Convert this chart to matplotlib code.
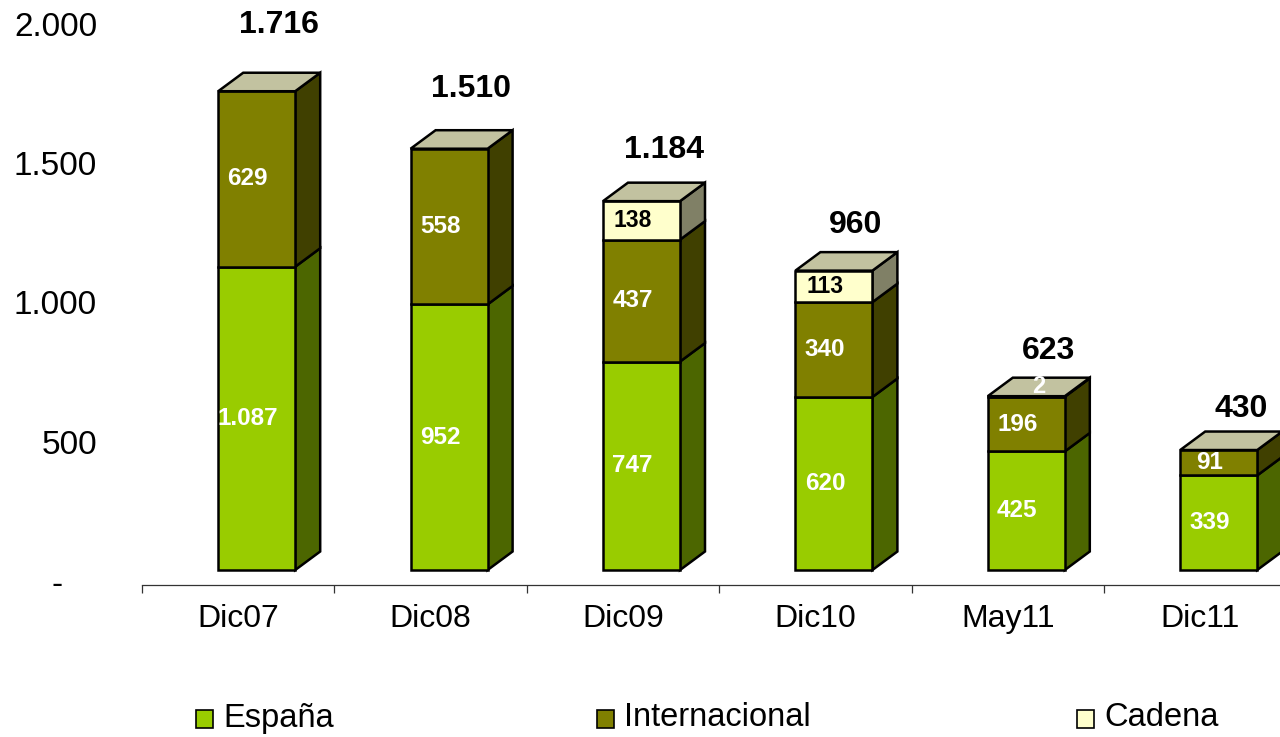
import matplotlib
matplotlib.use("Agg")
import matplotlib.pyplot as plt
from matplotlib.patches import Polygon, Rectangle
import numpy as np

# ---------------- data ----------------
categories = ["Dic07", "Dic08", "Dic09", "Dic10", "May11", "Dic11"]
espana = [1087, 952, 747, 620, 425, 339]
internacional = [629, 558, 437, 340, 196, 91]
cadena = [0, 0, 138, 113, 0, 0]
otros = [0, 0, 0, 0, 2, 0]
total_labels = ["1.716", "1.510", "1.184", "960", "623", "430"]
y_ticks = [0, 500, 1000, 1500, 2000]
y_tick_labels = ["-", "500", "1.000", "1.500", "2.000"]
legend_labels = ["España", "Internacional", "Cadena"]

# ---------------- style ----------------
plt.rcParams['font.family'] = ['Liberation Sans', 'DejaVu Sans']
FRONT = {"esp": "#99CC00", "int": "#808000", "cad": "#FFFFCC", "otr": "#808000"}
SIDE = {"esp": "#4C6600", "int": "#404000", "cad": "#808066", "otr": "#404000"}
TOP = "#C2C2A0"
LBL = {"esp": "white", "int": "white", "cad": "black", "otr": "white"}
total_pad_px = [53, 46, 38, 32, 32, 28]

W, H = 1280, 737
fig = plt.figure(figsize=(W / 100, H / 100), dpi=100)
ax_left, ax_right, ax_bottom, ax_top = 142, 1280, 585, 27
ax = fig.add_axes([ax_left / W, (H - ax_bottom) / H,
                   (ax_right - ax_left) / W, (ax_bottom - ax_top) / H])
cat_px = 192.4
xr = (ax_right - ax_left) / cat_px
ppx = cat_px
ppy = (ax_bottom - ax_top) / 2000.0

sx, sy = 18.5 / ppx, 15 / ppy          # front face shift (bar set back in depth)
w = 77 / ppx                            # bar width
ddx, ddy = 25 / ppx, 18.5 / ppy         # 3D depth

x = np.arange(len(categories), dtype=float)
series = [("esp", espana), ("int", internacional), ("cad", cadena), ("otr", otros)]
bottoms = np.zeros(len(categories))
EDGE_LW = 1.8

def fmt(v):
    return f"{v:,}".replace(",", ".")

for key, vals in series:
    vals = np.asarray(vals, dtype=float)
    idx = np.nonzero(vals)[0]
    ax.bar(x[idx] + sx, vals[idx], width=w, bottom=bottoms[idx] + sy,
           color=FRONT[key], edgecolor="black", linewidth=EDGE_LW,
           clip_on=False, zorder=4)
    for i in idx:
        b = bottoms[i] + sy
        t = b + vals[i]
        x1 = x[i] + sx + w / 2
        side = Polygon([(x1, b), (x1 + ddx, b + ddy), (x1 + ddx, t + ddy), (x1, t)],
                       closed=True, facecolor=SIDE[key], edgecolor="black",
                       linewidth=EDGE_LW, clip_on=False, zorder=3, joinstyle="miter")
        ax.add_patch(side)
        cx = x[i] + sx
        if vals[i] * ppy < 10:
            ax.text(cx + ddx / 2, t + ddy / 2, fmt(int(vals[i])), color=LBL[key],
                    fontsize=17, fontweight="bold", ha="center", va="center",
                    zorder=7, clip_on=False)
        else:
            ax.text(cx - 9 / ppx, b + vals[i] / 2, fmt(int(vals[i])), color=LBL[key],
                    fontsize=17.5 if LBL[key] == "white" else 16.5,
                    fontweight="bold", ha="center", va="center",
                    zorder=7, clip_on=False)
    bottoms = bottoms + vals

# top faces + totals
for i in range(len(categories)):
    t = bottoms[i] + sy
    x0 = x[i] + sx - w / 2
    x1 = x[i] + sx + w / 2
    top = Polygon([(x0, t), (x0 + ddx, t + ddy), (x1 + ddx, t + ddy), (x1, t)],
                  closed=True, facecolor=TOP, edgecolor="black", linewidth=EDGE_LW,
                  clip_on=False, zorder=5, joinstyle="miter")
    ax.add_patch(top)
    ax.text(x[i] + sx + 22 / ppx, t + ddy + (total_pad_px[i] - 5) / ppy, total_labels[i],
            fontsize=23, fontweight="bold", ha="center", va="center",
            clip_on=False, zorder=7)

# axes styling
for s in ["left", "right", "top"]:
    ax.spines[s].set_visible(False)
ax.spines["bottom"].set_color("#333333")
ax.spines["bottom"].set_linewidth(0.9)
ax.set_xticks(x)
ax.set_xticklabels(categories, fontsize=23)
ax.tick_params(axis="x", which="major", length=0, pad=14)
ax.set_xticks(np.arange(-0.5, len(categories) + 0.5, 1.0), minor=True)
ax.tick_params(axis="x", which="minor", length=6, width=0.9, color="#333333",
               direction="out")
ax.set_yticks([])
ax.set_xlim(-0.5, -0.5 + xr)
ax.set_ylim(0, 2000)

ytr = ax.get_yaxis_transform()
for v, lab in zip(y_ticks, y_tick_labels):
    if lab == "-":
        ax.text((57 - ax_left) / (ax_right - ax_left), v, lab, transform=ytr,
                fontsize=24, ha="center", va="center", clip_on=False)
    else:
        ax.text((97 - ax_left) / (ax_right - ax_left), v, lab, transform=ytr,
                fontsize=24, ha="right", va="center", clip_on=False)

# legend
leg_sq_x = [196, 597, 1077]
leg_colors = [FRONT["esp"], FRONT["int"], FRONT["cad"]]
for lx, col, lab in zip(leg_sq_x, leg_colors, legend_labels):
    fig.add_artist(Rectangle((lx / W, (H - 728) / H), 17 / W, 18 / H,
                             transform=fig.transFigure, facecolor=col,
                             edgecolor="black", linewidth=1.2))
    fig.text((lx + 27) / W, (H - 718) / H, lab, fontsize=23.5, ha="left", va="center")

fig.savefig("out.png", dpi=100)
